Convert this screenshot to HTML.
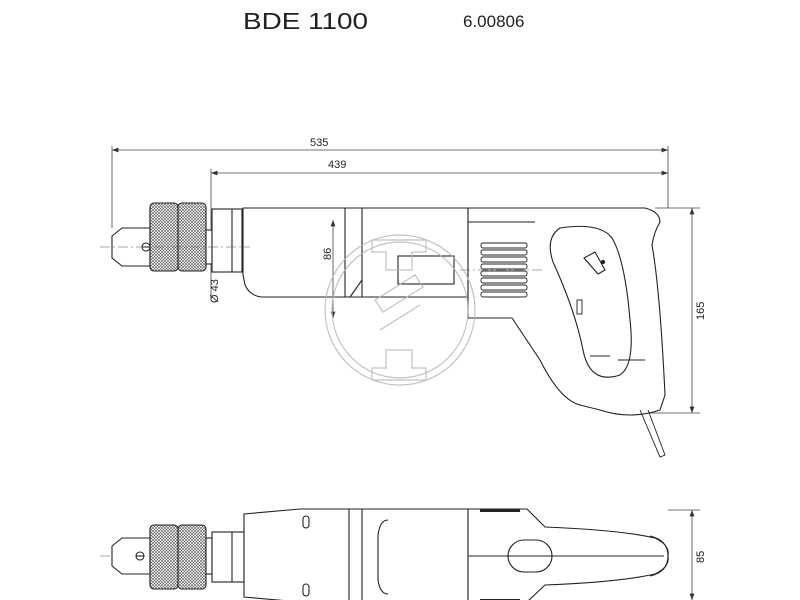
<!DOCTYPE html>
<html><head><meta charset="utf-8"><style>
html,body{margin:0;padding:0;background:#fff;}
svg{display:block;}
text{font-family:"Liberation Sans",sans-serif;fill:#222;}
</style></head><body>
<svg width="800" height="600" viewBox="0 0 800 600" xmlns="http://www.w3.org/2000/svg">
<defs>
<pattern id="kn" width="3" height="3" patternUnits="userSpaceOnUse"><rect width="3" height="3" fill="#fff"/><path d="M0 0L3 3M3 0L0 3" stroke="#555" stroke-width="0.6"/></pattern>
<marker id="ar" markerWidth="8" markerHeight="6" refX="8" refY="3" orient="auto-start-reverse"><path d="M0 0L8 3L0 6z" fill="#333"/></marker>
</defs>

<g stroke="#444" stroke-width="0.8" fill="none">
<line x1="112" y1="150" x2="668" y2="150" marker-start="url(#ar)" marker-end="url(#ar)"/>
<line x1="211" y1="173" x2="668" y2="173" marker-start="url(#ar)" marker-end="url(#ar)"/>
<line x1="112" y1="146" x2="112" y2="228"/>
<line x1="211" y1="169" x2="211" y2="300"/>
<line x1="668" y1="146" x2="668" y2="208"/>
<line x1="692" y1="208" x2="692" y2="413" marker-start="url(#ar)" marker-end="url(#ar)"/>
<line x1="655" y1="208" x2="700" y2="208"/>
<line x1="648" y1="413" x2="700" y2="413"/>
<line x1="692" y1="510" x2="692" y2="600" marker-start="url(#ar)" marker-end="url(#ar)"/>
<line x1="668" y1="510" x2="700" y2="510"/>
</g>

<g stroke="#222" stroke-width="1.1" fill="#fff">
<path d="M112 236L122 228H150V266H122L112 258Z"/>
<circle cx="146" cy="247" r="4" fill="none"/>
<line x1="142" y1="247" x2="150" y2="247"/>
<rect x="150" y="203" width="28" height="68" rx="4" fill="url(#kn)"/>
<rect x="178" y="203" width="28" height="68" rx="4" fill="url(#kn)"/>
<rect x="206" y="230" width="6" height="34"/>
<rect x="212" y="209" width="30" height="63"/>
<line x1="232" y1="209" x2="232" y2="272"/>
<path d="M243 208H468V297H262Q250 296 245 285L243 275Z"/>
<line x1="345" y1="208" x2="345" y2="297"/>
<line x1="362" y1="208" x2="362" y2="297"/>
<line x1="362" y1="280" x2="350" y2="297"/>
<rect x="398" y="256" width="56" height="28" fill="none"/>
<path d="M468 208H645Q660 212 660 222Q654 232 652 245Q660 290 665 395L660 410Q630 420 600 410L580 405Q560 400 540 360L512 318L468 318Z"/>
<path d="M560 228Q545 238 553 262Q575 310 583 350Q590 385 620 375Q635 365 630 320Q625 260 612 238Q600 222 560 228Z"/>
<path d="M584 258L595 252L605 270L598 274Z" fill="#fff"/>
<circle cx="603" cy="262" r="1.6" fill="#222"/>
<line x1="468" y1="222" x2="535" y2="222"/>
</g>
<g stroke="#444" stroke-width="0.8" fill="none">
<line x1="333" y1="220" x2="333" y2="318" marker-start="url(#ar)" marker-end="url(#ar)"/>
</g>
<g stroke="#222" stroke-width="0.9" fill="none">
<rect x="481" y="243" width="46" height="5" rx="2"/><rect x="481" y="250" width="46" height="5" rx="2"/>
<rect x="481" y="257" width="46" height="5" rx="2"/><rect x="481" y="264" width="46" height="5" rx="2"/>
<rect x="481" y="271" width="46" height="5" rx="2"/><rect x="481" y="278" width="46" height="5" rx="2"/>
<rect x="481" y="285" width="46" height="5" rx="2"/><rect x="481" y="292" width="46" height="5" rx="2"/>
<path d="M618 360H645M590 356H610"/>
<path d="M640 410L660 457L665 455L648 410"/>
<rect x="577" y="300" width="5" height="14"/>
</g>
<g stroke="#555" stroke-width="0.6" fill="none" stroke-dasharray="10 3 2 3">
<line x1="100" y1="247" x2="250" y2="247"/>
<line x1="460" y1="270" x2="545" y2="270"/>
<line x1="100" y1="556" x2="470" y2="556"/>
</g>

<!-- bottom view -->
<g stroke="#222" stroke-width="1.1" fill="#fff">
<path d="M112 546L122 538H150V574H122L112 566Z"/>
<circle cx="140" cy="556" r="4" fill="none"/>
<line x1="136" y1="556" x2="144" y2="556"/>
<rect x="150" y="525" width="28" height="64" rx="4" fill="url(#kn)"/>
<rect x="178" y="525" width="28" height="64" rx="4" fill="url(#kn)"/>
<rect x="206" y="538" width="6" height="36"/>
<rect x="212" y="532" width="32" height="50"/>
<line x1="232" y1="532" x2="232" y2="582"/>
<path d="M244 514L300 509H468V602H300L244 597Z"/>
<line x1="349" y1="509" x2="349" y2="602"/>
<line x1="362" y1="509" x2="362" y2="602"/>
<path d="M388 520Q380 520 378 535V580Q380 594 388 594"/>
<path d="M468 509H527L545 527Q620 530 655 538Q670 545 668 556Q670 567 655 574Q620 582 545 585L527 602H468Z"/>
<path d="M650 536Q668 540 668 556Q668 572 650 576" fill="none"/>
<rect x="508" y="540" width="44" height="32" rx="16"/>
<line x1="468" y1="556" x2="664" y2="556"/>
<rect x="303" y="516" width="6" height="12" rx="3"/>
<rect x="303" y="584" width="6" height="12" rx="3"/>
</g>
<g fill="#222"><rect x="480" y="509" width="40" height="3"/><rect x="480" y="599" width="40" height="3"/></g>

<!-- watermark (on top, light) -->
<g stroke="#b8b8b8" stroke-width="1.2" fill="none" opacity="0.85">
<circle cx="400" cy="310" r="75"/>
<circle cx="400" cy="310" r="68"/>
<path d="M372 240h54v12h-14v18h-26v-18h-14z"/>
<path d="M372 380h54v-12h-14v-18h-26v18h-14z"/>
<path d="M375 300l40-25 8 12-40 25z M380 330l40-25"/>
</g>

<text x="243" y="29" font-size="23" textLength="125" lengthAdjust="spacingAndGlyphs">BDE 1100</text>
<text x="463" y="27" font-size="17">6.00806</text>
<text x="310" y="146" font-size="11">535</text>
<text x="328" y="168" font-size="11">439</text>
<text font-size="11" transform="translate(331,260) rotate(-90)">86</text>
<text font-size="11" transform="translate(218,303) rotate(-90)">Ø 43</text>
<text font-size="11" transform="translate(704,320) rotate(-90)">165</text>
<text font-size="11" transform="translate(704,563) rotate(-90)">85</text>
</svg>
</body></html>
